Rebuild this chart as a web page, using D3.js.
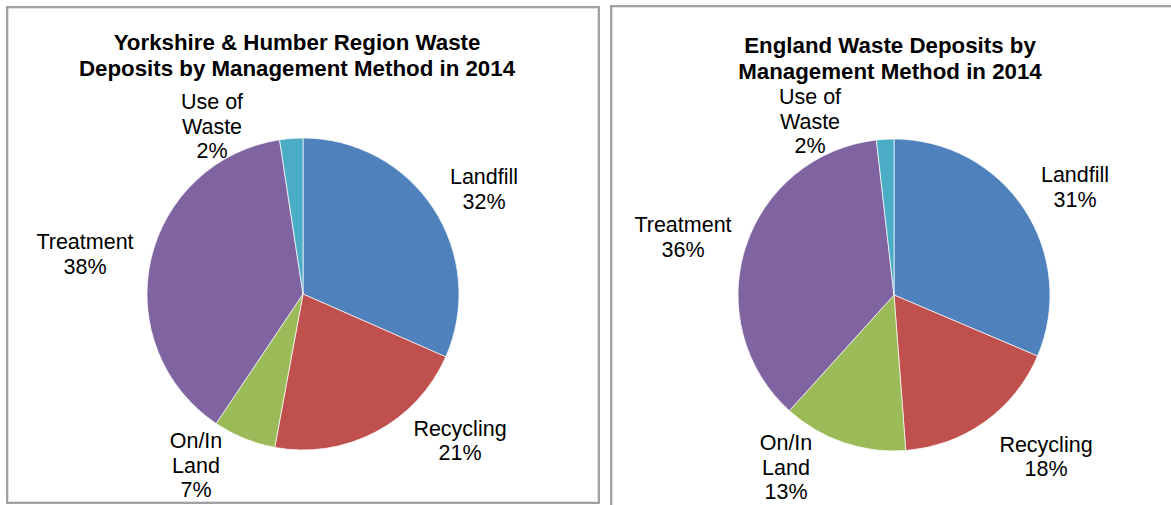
<!DOCTYPE html>
<html>
<head>
<meta charset="utf-8">
<script src="https://cdn.jsdelivr.net/npm/d3@7"></script>
<style>
  body { margin: 0; background: #fff; }
  svg { display: block; font-family: "Liberation Sans", Arial, sans-serif; }
  .title { font-weight: bold; font-size: 22.3px; fill: #000; }
  .lbl { font-size: 21.5px; fill: #000; }
</style>
</head>
<body>
<svg class="piesvg" width="1171" height="505"></svg>
<script>
// data
var categories = ["Landfill", "Recycling", "On/In Land", "Treatment", "Use of Waste"];
var labelLines = [["Landfill"], ["Recycling"], ["On/In", "Land"], ["Treatment"], ["Use of", "Waste"]];
var yorkshireValues = [31.6, 21.3, 6.5, 38.2, 2.4];
var yorkshirePct = ["32%", "21%", "7%", "38%", "2%"];
var englandValues = [31.4, 17.4, 12.9, 36.5, 1.8];
var englandPct = ["31%", "18%", "13%", "36%", "2%"];
var colors = ["#4f81bd", "#c0504d", "#9bbb59", "#8064a2", "#4bacc6"];

var svg = d3.select(".piesvg");

function drawframe(x, y, w, h)
{
	svg.append("rect")
	   .attr("x", x).attr("y", y)
	   .attr("width", w).attr("height", h)
	   .attr("fill", "none")
	   .attr("stroke", "#8a8a8a")
	   .attr("stroke-width", 1.6);
	svg.append("rect")
	   .attr("x", x + 1.5).attr("y", y + 1.5)
	   .attr("width", w - 3).attr("height", h - 3)
	   .attr("fill", "none")
	   .attr("stroke", "#d8d8d8")
	   .attr("stroke-width", 0.8);
}

function drawpie(cx, cy, r, values, pct, titleLines, titleX, titleY, labelPos)
{
	var g = svg.append("g")
	    .attr("transform", "translate(" + cx + "," + cy + ")");

	var pie = d3.pie().sort(null).value(function(d) { return d; });
	var arc = d3.arc().innerRadius(0).outerRadius(r);
	var color = d3.scaleOrdinal().domain(categories).range(colors);

	g.selectAll("path")
	   .data(pie(values))
	   .enter().append("path")
	   .attr("d", arc)
	   .attr("fill", function(d, i) { return color(categories[i]); })
	   .attr("stroke", "#fff")
	   .attr("stroke-width", 0.7);

	// labels
	var lh = 24.5;
	labelPos.forEach(function(p, i) {
		var lines = labelLines[i].concat([pct[i]]);
		var t = g.append("text")
		    .attr("class", "lbl")
		    .attr("text-anchor", "middle");
		lines.forEach(function(s, j) {
			t.append("tspan")
			   .attr("x", p[0])
			   .attr("y", p[1] + (j - (lines.length - 1) / 2) * lh + 7.5)
			   .text(s);
		});
	});

	var tt = svg.append("text")
	    .attr("class", "title")
	    .attr("text-anchor", "middle");
	titleLines.forEach(function(s, j) {
		tt.append("tspan")
		   .attr("x", titleX)
		   .attr("y", titleY + j * 25.5)
		   .text(s);
	});
}

drawframe(7, 7, 592, 496);
drawframe(611, 6, 580, 520);

drawpie(303, 294, 156, yorkshireValues, yorkshirePct,
	["Yorkshire & Humber Region Waste", "Deposits by Management Method in 2014"], 297, 50,
	[[181, -105], [157, 146.5], [-107, 171], [-218, -40], [-91, -168]]);

drawpie(894, 295, 156, englandValues, englandPct,
	["England Waste Deposits by", "Management Method in 2014"], 890, 53,
	[[181, -108], [152, 161.5], [-108, 172], [-211, -58], [-84, -174]]);
</script>
</body>
</html>
